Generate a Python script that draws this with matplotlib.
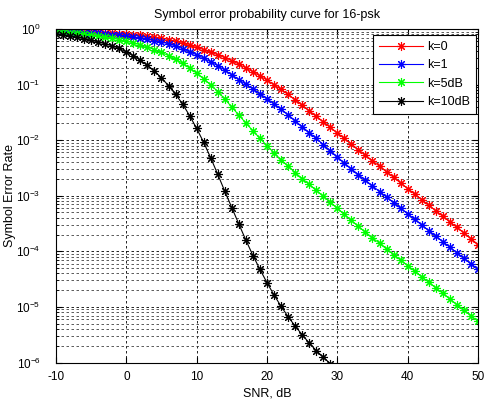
import numpy as np
import matplotlib
matplotlib.use('Agg')
import matplotlib.pyplot as plt
from matplotlib.ticker import LogLocator, NullFormatter

# SNR axis (dB), one point per dB
snr = list(range(-10, 51))
snr_k10 = list(range(-10, 30))

# symbol error rate as log10 values
ser_k0_log = [-0.030, -0.033, -0.037, -0.041, -0.046, -0.051, -0.057, -0.064, -0.072, -0.081,
              -0.091, -0.102, -0.115, -0.130, -0.147, -0.166, -0.190, -0.222, -0.258, -0.295,
              -0.332, -0.370, -0.415, -0.465, -0.515, -0.570, -0.632, -0.700, -0.770, -0.843,
              -0.920, -1.000, -1.088, -1.178, -1.272, -1.370, -1.470, -1.570, -1.670, -1.770,
              -1.870, -1.970, -2.070, -2.170, -2.270, -2.370, -2.470, -2.570, -2.670, -2.770,
              -2.870, -2.970, -3.070, -3.170, -3.270, -3.370, -3.470, -3.570, -3.670, -3.770,
              -3.880]
ser_k1_log = [-0.038, -0.043, -0.049, -0.056, -0.063, -0.071, -0.080, -0.090, -0.101, -0.114,
              -0.128, -0.144, -0.162, -0.183, -0.207, -0.234, -0.265, -0.305, -0.355, -0.408,
              -0.465, -0.525, -0.590, -0.660, -0.740, -0.825, -0.910, -0.995, -1.080, -1.165,
              -1.253, -1.345, -1.443, -1.545, -1.650, -1.757, -1.863, -1.970, -2.078, -2.190,
              -2.305, -2.412, -2.518, -2.620, -2.722, -2.823, -2.924, -3.025, -3.126, -3.226,
              -3.326, -3.426, -3.526, -3.626, -3.726, -3.826, -3.926, -4.026, -4.126, -4.226,
              -4.320]
ser_k5_log = [-0.045, -0.055, -0.066, -0.078, -0.092, -0.107, -0.124, -0.143, -0.165, -0.190,
              -0.220, -0.250, -0.285, -0.325, -0.370, -0.420, -0.478, -0.543, -0.618, -0.703,
              -0.795, -0.898, -1.005, -1.125, -1.260, -1.405, -1.550, -1.692, -1.832, -1.968,
              -2.100, -2.230, -2.352, -2.470, -2.582, -2.690, -2.797, -2.903, -3.010, -3.117,
              -3.225, -3.335, -3.445, -3.553, -3.655, -3.755, -3.857, -3.958, -4.058, -4.158,
              -4.258, -4.358, -4.458, -4.558, -4.658, -4.758, -4.858, -4.958, -5.058, -5.158,
              -5.260]
ser_k10_log = [-0.090, -0.108, -0.128, -0.150, -0.175, -0.203, -0.234, -0.267, -0.303, -0.350,
               -0.410, -0.480, -0.563, -0.655, -0.755, -0.880, -1.020, -1.175, -1.350, -1.560,
               -1.790, -2.040, -2.320, -2.615, -2.920, -3.215, -3.510, -3.800, -4.075, -4.325,
               -4.565, -4.785, -4.990, -5.175, -5.345, -5.500, -5.650, -5.785, -5.905, -6.020]

labels = ['k=0', 'k=1', 'k=5dB', 'k=10dB']
colors = ['#ff0000', '#0000ff', '#00ff00', '#000000']

plt.rcParams['font.family'] = ['Liberation Sans', 'DejaVu Sans']
plt.rcParams['axes.unicode_minus'] = False

fig = plt.figure(figsize=(4.84, 4.01), dpi=100)
ax = fig.add_axes([56 / 484, 1 - 362.5 / 401, (478 - 56) / 484, (362.5 - 29) / 401])

star = (8, 2, 0)
series = [(snr, ser_k0_log), (snr, ser_k1_log), (snr, ser_k5_log), (snr_k10, ser_k10_log)]
for (x, ylog), lab, c in zip(series, labels, colors):
    y = 10 ** np.array(ylog)
    ax.semilogy(x, y, color=c, lw=0.8, marker=star, markersize=6.5,
                markeredgewidth=0.8, label=lab)

ax.set_xlim(-10, 50)
ax.set_ylim(1e-6, 1)
ax.set_xticks([-10, 0, 10, 20, 30, 40, 50])
ax.yaxis.set_major_locator(LogLocator(base=10, numticks=10))
ax.yaxis.set_minor_locator(LogLocator(base=10, subs=np.arange(2, 10), numticks=20))
ax.yaxis.set_minor_formatter(NullFormatter())

ax.grid(True, which='major', color='black', linestyle=(0, (3, 3)), lw=0.6)
ax.grid(True, which='minor', axis='y', color='#404040', linestyle=(0, (3, 3)), lw=0.6)

ax.tick_params(which='both', direction='in', top=True, right=True, labelsize=8.5)
ax.tick_params(which='major', length=4)
ax.tick_params(which='minor', length=2)
ax.tick_params(axis='x', pad=6)
ax.tick_params(axis='y', pad=11)
for s in ax.spines.values():
    s.set_linewidth(0.8)

ax.set_title('Symbol error probability curve for 16-psk', fontsize=9, pad=8)
ax.set_xlabel('SNR, dB', fontsize=9, labelpad=3)
ax.set_ylabel('Symbol Error Rate', fontsize=9, labelpad=0)

leg = ax.legend(loc='upper right', bbox_to_anchor=(476 / 484, 1 - 35 / 401),
                bbox_transform=fig.transFigure, borderaxespad=0,
                fontsize=9, fancybox=False, framealpha=1, edgecolor='black',
                handlelength=3.5, handletextpad=0.3, labelspacing=0.5,
                borderpad=0.5)
leg.get_frame().set_linewidth(0.8)

fig.savefig('out.png', dpi=100)
